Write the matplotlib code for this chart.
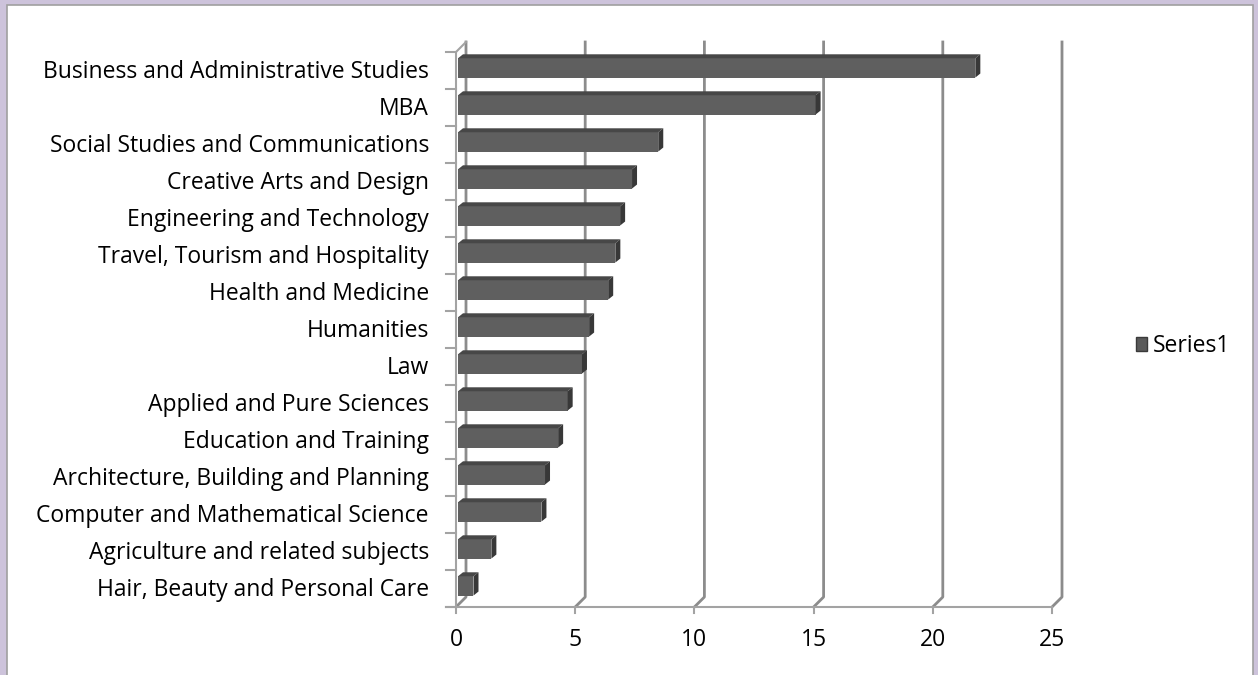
import matplotlib.pyplot as plt
from matplotlib.patches import Rectangle, Polygon, Patch

categorias = [
    "Hair, Beauty and Personal Care",
    "Agriculture and related subjects",
    "Computer and Mathematical Science",
    "Architecture, Building and Planning",
    "Education and Training",
    "Applied and Pure Sciences",
    "Law",
    "Humanities",
    "Health and Medicine",
    "Travel, Tourism and Hospitality",
    "Engineering and Technology",
    "Creative Arts and Design",
    "Social Studies and Communications",
    "MBA",
    "Business and Administrative Studies",
]
valores = [0.65, 1.4, 3.5, 3.65, 4.2, 4.6, 5.2, 5.5, 6.3, 6.6, 6.8, 7.3, 8.4, 15.0, 21.7]
ticks_x = [0, 5, 10, 15, 20, 25]
serie = "Series1"

plt.rcParams["font.family"] = ["Open Sans", "DejaVu Sans"]

W, H = 1258, 675
fig = plt.figure(figsize=(W / 100, H / 100), dpi=100)
fig.patch.set_facecolor("#cdc3db")
fig.patches.append(Rectangle((7 / W, -0.01), 1246 / W, 0.01 + 670 / H, transform=fig.transFigure,
                             facecolor="white", edgecolor="#a0a0a0", lw=1.2, zorder=-10))

# ejes: frente del grafico 3D
ax_l, ax_r, ax_b, ax_t = 456, 1052, 607, 52
ax = fig.add_axes([ax_l / W, (H - ax_b) / H, (ax_r - ax_l) / W, (ax_b - ax_t) / H])
ax.set_zorder(5)
ax.set_xlim(0, 25)
ax.set_ylim(-0.5, len(categorias) - 0.5)
ax.axis("off")

px = 25 / (ax_r - ax_l)          # unidades de datos por pixel
py = len(categorias) / (ax_b - ax_t)
fondo_x, fondo_y = 10 * px, 10 * py
prof_x, prof_y = 5 * px, 4 * py

y0 = -0.5
y1 = len(categorias) - 0.5
gris_grid = "#8c8c8c"
gris_eje = "#a3a3a3"
tam = 16.5

# pared del fondo (lineas de cuadricula) y suelo
for t in ticks_x:
    ax.plot([t, t + fondo_x, t + fondo_x], [y0, y0 + fondo_y, y1 + fondo_y],
            color=gris_grid, lw=2, clip_on=False, zorder=1)
    ax.plot([t, t], [y0, y0 - 6 * py], color=gris_eje, lw=1.5, clip_on=False)
    ax.text(t, y0 - 33 * py, str(t), ha="center", va="center", fontsize=tam)
ax.plot([-10 * px, 25], [y0, y0], color=gris_eje, lw=1.5, clip_on=False, zorder=1)

# pared izquierda
ax.plot([0, 0, fondo_x], [y0, y1, y1 + fondo_y], color=gris_eje, lw=1.5, clip_on=False, zorder=1)
for k in range(len(categorias) + 1):
    ax.plot([-10 * px, 0], [y0 + k, y0 + k], color=gris_eje, lw=1.5, clip_on=False, zorder=1)

# barras con efecto 3D
alto = 0.52
for i, v in enumerate(valores):
    yc = i + 0.07
    yb, yt = yc - alto / 2, yc + alto / 2
    ax.add_patch(Rectangle((px * 2, yb), v, alto, facecolor="#5f5f5f", edgecolor="none", zorder=3))
    ax.add_patch(Polygon([(px * 2, yt), (px * 2 + v, yt), (px * 2 + v + prof_x, yt + prof_y),
                          (px * 2 + prof_x, yt + prof_y)], closed=True,
                         facecolor="#474747", edgecolor="none", zorder=3))
    ax.add_patch(Polygon([(px * 2 + v, yb), (px * 2 + v, yt), (px * 2 + v + prof_x, yt + prof_y),
                          (px * 2 + v + prof_x, yb + prof_y)], closed=True,
                         facecolor="#383838", edgecolor="none", zorder=3))
    ax.text(-27 * px, i - 0.03, categorias[i], ha="right", va="center", fontsize=tam)

fig.legend(handles=[Patch(facecolor="#5a5a5a", edgecolor="#3a3a3a")], labels=[serie],
           loc="center left", bbox_to_anchor=(1115 / W, (H - 346) / H), frameon=False,
           fontsize=tam, handlelength=0.5, handleheight=0.55, handletextpad=0.25)

fig.savefig("out.png", dpi=100, facecolor=fig.get_facecolor())
